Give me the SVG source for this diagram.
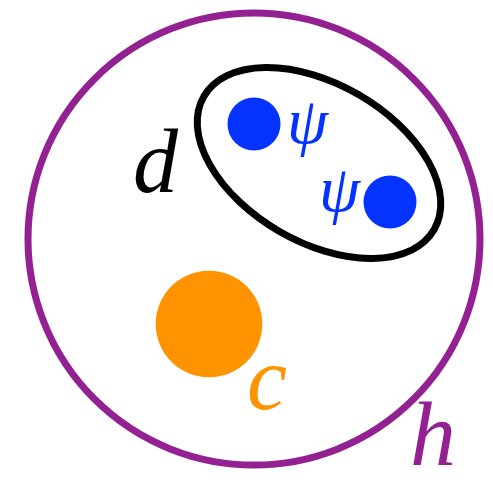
<svg xmlns="http://www.w3.org/2000/svg" width="493" height="486" viewBox="0 0 493 486">
<style>
.lbl{font-family:"Liberation Serif","DejaVu Serif",serif;font-style:italic}
</style>
<rect width="493" height="486" fill="#ffffff"/>
<g id="h">
<circle cx="254" cy="239" r="226" fill="none" stroke="#942192" stroke-width="7"/>
<text class="lbl" x="410" y="465" font-size="92" fill="#942192">h</text>
</g>
<g id="d">
<ellipse cx="319" cy="163" rx="133" ry="79" transform="rotate(30 319 163)" fill="none" stroke="#000000" stroke-width="7"/>
<text class="lbl" x="133" y="192" font-size="90" fill="#000000">d</text>
</g>
<g id="psi1">
<circle cx="254" cy="124" r="26.5" fill="#0433FF"/>
<text class="lbl" x="287" y="143" font-size="66" fill="#0433FF">ψ</text>
</g>
<g id="psi2">
<circle cx="390" cy="202" r="26.5" fill="#0433FF"/>
<text class="lbl" x="319" y="211" font-size="66" fill="#0433FF">ψ</text>
</g>
<g id="c">
<circle cx="209" cy="324" r="53.3" fill="#FF9300"/>
<text class="lbl" x="247" y="409" font-size="90" fill="#FF9300">c</text>
</g>
<g id="connectors"/>
</svg>
